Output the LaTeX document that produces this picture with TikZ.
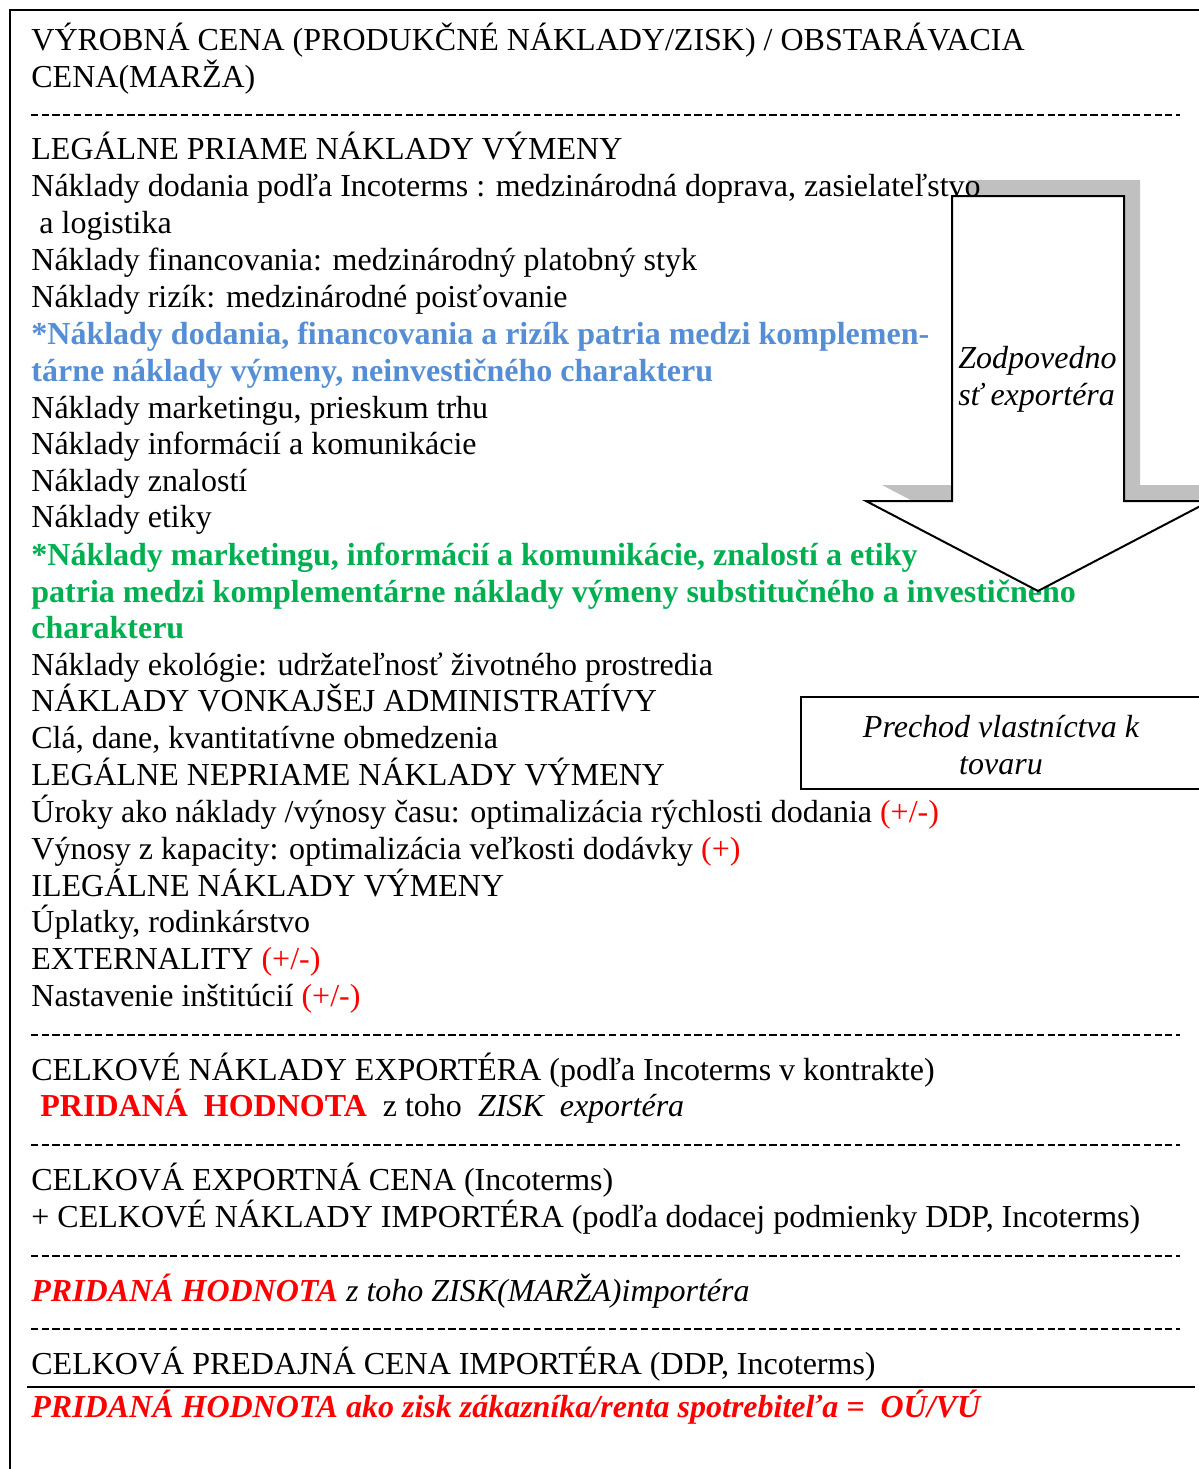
\documentclass[tikz,border=0pt]{standalone}
\usepackage{fontspec}
\setmainfont{Liberation Serif}
\definecolor{noteblue}{RGB}{85,142,213}
\definecolor{notegreen}{RGB}{0,176,80}
\definecolor{plusred}{RGB}{255,0,0}
\definecolor{shadowgray}{RGB}{192,192,192}
\begin{document}
\begin{tikzpicture}[x=0.5pt,y=-0.5pt,
  txt/.style={anchor=base west,inner sep=0pt,font=\fontsize{16.0}{18.4}\selectfont},
  blue/.style={txt,text=noteblue,font=\fontsize{16.0}{18.4}\selectfont\bfseries},
  green/.style={txt,text=notegreen,font=\fontsize{16.0}{18.4}\selectfont\bfseries},
  sep/.style={line width=1pt,dash pattern=on 3.6pt off 1.75pt},
  itx/.style={inner sep=0pt,font=\fontsize{16.0}{18.4}\selectfont\itshape}]
\useasboundingbox (0,0) rectangle (1199,1469);
\clip (0,0) rectangle (1199,1469);
% outer frame (open to the right and bottom)
\draw[line width=1.2pt] (10,1480) -- (10,10) -- (1210,10);

% drop shadow of the block arrow (lies under the text)
\fill[shadowgray] (968,180) -- (1140,180) -- (1140,485) -- (1226,485) -- (1054,575) -- (882,485) -- (968,485) -- cycle;

% header
\node[txt] (l1) at (31,50) {VÝROBNÁ CENA (PRODUKČNÉ NÁKLADY/ZISK) / OBSTARÁVACIA};
\node[txt] (l2) at (31,87) {CENA(MARŽA)};
\draw[sep] (31,115) -- (1180,115);

% cost items
\node[txt] (l3) at (31,159) {LEGÁLNE PRIAME NÁKLADY VÝMENY};
\node[txt] (l4) at (31,196) {Náklady dodania podľa Incoterms : medzinárodná doprava, zasielateľstvo};
\node[txt] (l5) at (39,233) {a logistika};
\node[txt] (l6) at (31,270) {Náklady financovania: medzinárodný platobný styk};
\node[txt] (l7) at (31,307) {Náklady rizík: medzinárodné poisťovanie};
\node[blue] (l8) at (31,344) {*Náklady dodania, financovania a rizík patria medzi komplemen-};
\node[blue] (l9) at (31,381) {tárne náklady výmeny, neinvestičného charakteru};
\node[txt] (l10) at (31,418) {Náklady marketingu, prieskum trhu};
\node[txt] (l11) at (31,454) {Náklady informácií a komunikácie};
\node[txt] (l12) at (31,491) {Náklady znalostí};
\node[txt] (l13) at (31,527) {Náklady etiky};
\node[green] (l14) at (31,565) {*Náklady marketingu, informácií a komunikácie, znalostí a etiky};
\node[green] (l15) at (31,602) {patria medzi komplementárne náklady výmeny substitučného a investičného};
\node[green] (l16) at (31,638) {charakteru};
\node[txt] (l17) at (31,675) {Náklady ekológie: udržateľnosť životného prostredia};
\node[txt] (l18) at (31,711) {NÁKLADY VONKAJŠEJ ADMINISTRATÍVY};
\node[txt] (l19) at (31,748) {Clá, dane, kvantitatívne obmedzenia};
\node[txt] (l20) at (31,785) {LEGÁLNE NEPRIAME NÁKLADY VÝMENY};
\node[txt] (l21) at (31,822) {Úroky ako náklady /výnosy času: optimalizácia rýchlosti dodania \textcolor{plusred}{(+/-)}};
\node[txt] (l22) at (31,859) {Výnosy z kapacity: optimalizácia veľkosti dodávky \textcolor{plusred}{(+)}};
\node[txt] (l23) at (31,896) {ILEGÁLNE NÁKLADY VÝMENY};
\node[txt] (l24) at (31,932) {Úplatky, rodinkárstvo};
\node[txt] (l25) at (31,969) {EXTERNALITY \textcolor{plusred}{(+/-)}};
\node[txt] (l26) at (31,1006) {Nastavenie inštitúcií \textcolor{plusred}{(+/-)}};
\draw[sep] (31,1035) -- (1180,1035);

% totals
\node[txt] (l27) at (31,1080) {CELKOVÉ NÁKLADY EXPORTÉRA (podľa Incoterms v kontrakte)};
\node[txt] (l28) at (40,1116) {\textcolor{plusred}{\bfseries PRIDANÁ\ \ HODNOTA}\ \ z toho\ \ \textit{ZISK\ \ exportéra}};
\draw[sep] (31,1145) -- (1180,1145);
\node[txt] (l29) at (31,1190) {CELKOVÁ EXPORTNÁ CENA (Incoterms)};
\node[txt] (l30) at (31,1227) {+ CELKOVÉ NÁKLADY IMPORTÉRA (podľa dodacej podmienky DDP, Incoterms)};
\draw[sep] (31,1256) -- (1180,1256);
\node[txt] (l31) at (31,1301) {\itshape\textcolor{plusred}{\bfseries PRIDANÁ HODNOTA} z toho ZISK(MARŽA)importéra};
\draw[sep] (31,1329) -- (1180,1329);
\node[txt] (l32) at (31,1374) {CELKOVÁ PREDAJNÁ CENA IMPORTÉRA (DDP, Incoterms)};
\draw[line width=1.2pt] (27,1387) -- (1195,1387);
\node[txt,text=plusred] (l33) at (31,1417) {\bfseries\itshape PRIDANÁ HODNOTA ako zisk zákazníka/renta spotrebiteľa =\ \ OÚ/VÚ};

% block arrow
\draw[fill=white,line width=1pt] (952,196) -- (1124,196) -- (1124,501) -- (1210,501) -- (1038,591) -- (866,501) -- (952,501) -- cycle;
\node[itx,anchor=base west] (a1) at (958,368) {Zodpovedno};
\node[itx,anchor=base west] (a2) at (958,405) {sť exportéra};

% ownership transfer box
\draw[fill=white,line width=1pt] (801,697) rectangle (1201,789);
\node[itx,anchor=base] (b1) at (1001,737) {Prechod vlastníctva k};
\node[itx,anchor=base] (b2) at (1001,774) {tovaru};
\end{tikzpicture}
\end{document}
